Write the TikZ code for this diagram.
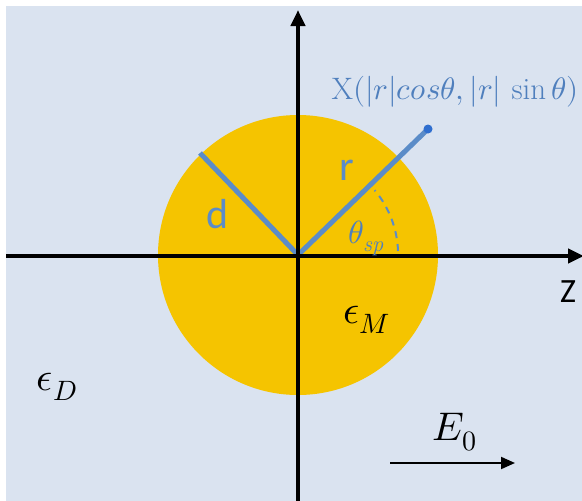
\documentclass[tikz,border=0pt]{standalone}
\usepackage{fontspec}
\usepackage{unicode-math}
\setmathfont{Latin Modern Math}
\newfontfamily\sansf{Carlito}
\usetikzlibrary{arrows.meta,calc}
\definecolor{bg}{HTML}{DAE3F0}
\definecolor{gold}{HTML}{F5C400}
\definecolor{lblue}{HTML}{5B8CC8}
\definecolor{dotblue}{HTML}{2F6ECF}
\definecolor{tblue}{HTML}{4F7FBD}
\tikzset{
  axis/.style={line width=4pt, -{Triangle[length=16pt,width=14pt]}},
  radial/.style={lblue, line width=5pt},
  slabel/.style={font=\sansf\fontsize{42}{48}\selectfont, inner sep=0pt},
  mlabel/.style={font=\fontsize{40}{46}\selectfont, inner sep=0pt},
}
\begin{document}
\begin{tikzpicture}[x=1pt,y=-1pt]
\useasboundingbox (0,0) rectangle (582,501);
\fill[bg] (6,6) rectangle (582,501);
\coordinate (O) at (298,255);
\fill[gold] (O) circle (140);
% radial lines
\coordinate (P) at (428,129);
\coordinate (Dend) at (200,153);
\draw[radial] (O) -- (P);
\draw[radial] (O) -- (Dend);
% axes
\coordinate (Xl) at (6,256);
\coordinate (Xr) at (584,256);
\coordinate (Yb) at (298,501);
\coordinate (Yt) at (298,10);
\draw[axis] (Xl) -- (Xr);
\draw[axis] (Yb) -- (Yt);
\fill[dotblue] (P) circle (4.5);
% angle arc
\draw[lblue, line width=2pt, dash pattern=on 7pt off 6pt] ($(O)+(100,-4)$) arc[start angle=-2, end angle=-40, radius=100];
% labels
\node[slabel, text=lblue] (rl) at (347,170) {r};
\node[slabel, text=lblue] (dl) at (218,214) {d};
\node[inner sep=0pt, text=black, font=\sansf\fontsize{34}{40}\selectfont] (zl) at (568,292) {Z};
\node[inner sep=0pt, text=tblue, font=\fontsize{32}{38}\selectfont] (th) at (366,238) {$\theta_{\mathit{sp}}$};
\node[inner sep=0pt, text=tblue, font=\fontsize{31}{36}\selectfont] (xl) at (455,92) {X$(|r|cos\theta,|r|\,\sin\theta)$};
\node[mlabel] (em) at (367,320) {$\epsilon_M$};
\node[mlabel] (ed) at (57,387) {$\epsilon_D$};
\node[inner sep=0pt, font=\fontsize{40}{44}\selectfont] (e0) at (455,432) {$E_0$};
\coordinate (A1) at (390,463);
\coordinate (A2) at (515,463);
\draw[line width=2pt, -{Triangle[length=14pt,width=12pt]}] (A1) -- (A2);
\end{tikzpicture}
\end{document}
